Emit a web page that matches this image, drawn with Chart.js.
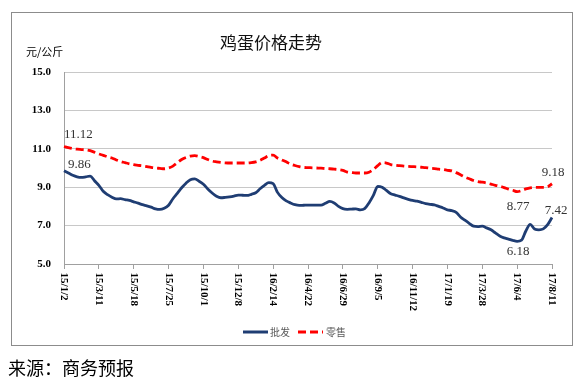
<!DOCTYPE html>
<html><head><meta charset="utf-8">
<script src="https://cdn.jsdelivr.net/npm/chart.js@4.4.0/dist/chart.umd.min.js"></script>
<style>html,body{margin:0;padding:0;background:#fff;}#wrap{width:581px;height:388px;position:relative}</style>
</head><body><div id="wrap"><canvas id="c" width="581" height="388"></canvas></div>
<script>
const title = '鸡蛋价格走势';
const yTitle = '元/公斤';
const source = '来源：商务预报';
const seriesNames = ['批发', '零售'];
const tickLabels = ['15/1/2','15/3/11','15/5/18','15/7/25','15/10/1','15/12/8','16/2/14','16/4/22','16/6/29','16/9/5','16/11/12','17/1/19','17/3/28','17/6/4','17/8/11'];
const pointsPerTick = 8;
const yTicks = [5, 7, 9, 11, 13, 15];

const wholesale = [
 9.86,9.74,9.62,9.54,9.51,9.54,9.58,9.34,9.10,8.79,
 8.61,8.48,8.39,8.40,8.35,8.31,8.24,8.17,8.09,8.03,
 7.96,7.87,7.84,7.90,8.06,8.40,8.68,8.97,9.21,9.39,
 9.43,9.31,9.15,8.91,8.70,8.53,8.45,8.47,8.50,8.54,
 8.59,8.58,8.57,8.63,8.71,8.92,9.10,9.24,9.19,8.73,
 8.46,8.29,8.18,8.09,8.05,8.06,8.07,8.07,8.07,8.07,
 8.16,8.26,8.18,8.00,7.88,7.85,7.86,7.87,7.82,7.88,
 8.18,8.57,9.04,9.00,8.83,8.66,8.59,8.52,8.44,8.37,
 8.31,8.27,8.21,8.15,8.11,8.08,8.00,7.92,7.82,7.78,
 7.69,7.45,7.28,7.12,6.97,6.95,6.97,6.88,6.78,6.62,
 6.46,6.36,6.30,6.23,6.18,6.24,6.72,7.06,6.82,6.78,
 6.83,7.05,7.42
];
const retail = [
 11.12,11.06,11.01,10.98,10.96,10.94,10.90,10.82,10.73,10.66,
 10.58,10.52,10.42,10.34,10.28,10.22,10.17,10.14,10.11,10.07,
 10.03,10.00,9.98,9.96,10.00,10.10,10.27,10.44,10.55,10.62,
 10.64,10.60,10.54,10.44,10.36,10.32,10.29,10.27,10.26,10.26,
 10.26,10.26,10.26,10.28,10.32,10.40,10.52,10.64,10.67,10.52,
 10.42,10.32,10.20,10.13,10.07,10.03,10.02,10.01,10.00,9.99,
 9.97,9.96,9.94,9.92,9.88,9.79,9.76,9.74,9.74,9.74,
 9.78,9.92,10.12,10.28,10.26,10.18,10.15,10.12,10.10,10.08,
 10.07,10.06,10.04,10.02,9.99,9.97,9.94,9.92,9.88,9.85,
 9.76,9.65,9.53,9.44,9.35,9.29,9.26,9.22,9.16,9.10,
 9.05,8.98,8.90,8.84,8.77,8.82,8.91,8.97,8.99,8.99,
 8.99,9.02,9.18
];

const categories = wholesale.map((_, i) => (i % pointsPerTick === 0 ? tickLabels[i / pointsPerTick] : ''));

const BLUE = '#1F3D73';
const RED = '#FF0000';

const deco = {
  id: 'deco',
  beforeDraw(chart) {
    const ctx = chart.ctx;
    ctx.save(); ctx.fillStyle = '#fff'; ctx.fillRect(0, 0, chart.width, chart.height); ctx.restore();
  },
  afterDraw(chart) {
    const ctx = chart.ctx, xs = chart.scales.x, area = chart.chartArea;
    ctx.save();
    ctx.strokeStyle = '#8c8c8c'; ctx.lineWidth = 1;
    ctx.strokeRect(11.5, 12.5, 561, 333);

    ctx.fillStyle = '#111';
    ctx.font = '17px "Noto Sans CJK SC"'; ctx.textAlign = 'center'; ctx.textBaseline = 'middle';
    ctx.fillText(title, 271, 42.5);

    ctx.fillStyle = '#000';
    ctx.font = '11px "Noto Sans CJK SC"'; ctx.textAlign = 'left';
    ctx.fillText(yTitle, 26, 52);

    ctx.font = 'bold 11px "Liberation Serif"';
    tickLabels.forEach((t, k) => {
      const x = xs.getPixelForValue(k * pointsPerTick);
      ctx.save(); ctx.translate(x, area.bottom + 8.5); ctx.rotate(Math.PI / 2);
      ctx.textAlign = 'left'; ctx.textBaseline = 'middle';
      ctx.fillText(t, 0, 0); ctx.restore();
    });

    // value labels
    ctx.font = '13px "Liberation Serif"'; ctx.fillStyle = '#333'; ctx.textBaseline = 'middle';
    const last = wholesale.length - 1;
    const notes = [
      {s: 1, i: 0, dx: 0, dy: -12, align: 'left'},
      {s: 0, i: 0, dx: 4, dy: -6.5, align: 'left'},
      {s: 1, i: last, dx: 1, dy: -11, align: 'center'},
      {s: 1, i: 104, dx: 1, dy: 15, align: 'center'},
      {s: 0, i: last, dx: 4, dy: -6.5, align: 'center'},
      {s: 0, i: 104, dx: 1, dy: 10.5, align: 'center'}
    ];
    notes.forEach(n => {
      const pt = chart.getDatasetMeta(n.s).data[n.i];
      const val = chart.data.datasets[n.s].data[n.i];
      ctx.textAlign = n.align;
      ctx.fillText(val.toFixed(2), pt.x + n.dx, pt.y + n.dy);
    });

    // legend
    const ly = 332;
    ctx.lineWidth = 3; ctx.strokeStyle = BLUE; ctx.setLineDash([]);
    ctx.beginPath(); ctx.moveTo(243, ly); ctx.lineTo(268, ly); ctx.stroke();
    ctx.strokeStyle = RED; ctx.setLineDash([8, 4]);
    ctx.beginPath(); ctx.moveTo(298, ly); ctx.lineTo(323, ly); ctx.stroke();
    ctx.setLineDash([]);
    ctx.font = '10px "Noto Sans CJK SC"'; ctx.fillStyle = '#595959'; ctx.textAlign = 'left';
    ctx.fillText(seriesNames[0], 270, ly);
    ctx.fillText(seriesNames[1], 326, ly);

    ctx.font = '18px "Noto Sans CJK SC"'; ctx.fillStyle = '#000';
    ctx.fillText(source, 8, 368);
    ctx.restore();
  }
};

new Chart(document.getElementById('c'), {
  type: 'line',
  data: {
    labels: categories,
    datasets: [
      {label: seriesNames[0], data: wholesale, borderColor: BLUE, borderWidth: 2.8, pointRadius: 0, cubicInterpolationMode: 'monotone', fill: false},
      {label: seriesNames[1], data: retail, borderColor: RED, borderWidth: 2.8, borderDash: [8, 4], pointRadius: 0, cubicInterpolationMode: 'monotone', fill: false}
    ]
  },
  options: {
    responsive: false, animation: false, devicePixelRatio: 1,
    layout: {padding: {left: 0, top: 72, right: 29, bottom: 0}},
    plugins: {legend: {display: false}, tooltip: {enabled: false}, title: {display: false}},
    scales: {
      x: {
        type: 'category', offset: false,
        grid: {display: true, drawOnChartArea: false, drawTicks: true, tickLength: 5,
               color: c => (c.index % pointsPerTick === 0 ? '#a0a0a0' : 'rgba(0,0,0,0)')},
        border: {display: true, color: '#a0a0a0'},
        ticks: {display: false, autoSkip: false},
        afterFit: s => { s.height = 388 - 264; }
      },
      y: {
        min: 5, max: 15,
        afterBuildTicks: s => { s.ticks = yTicks.map(v => ({value: v})); },
        ticks: {padding: 13, color: '#000', font: {family: 'Liberation Serif', size: 11, weight: 'bold'}, callback: v => Number(v).toFixed(1)},
        grid: {color: '#c8c8c8', drawTicks: false},
        border: {display: true, color: '#a0a0a0'},
        afterFit: s => { s.width = 64; }
      }
    }
  },
  plugins: [deco]
});
</script></body></html>
